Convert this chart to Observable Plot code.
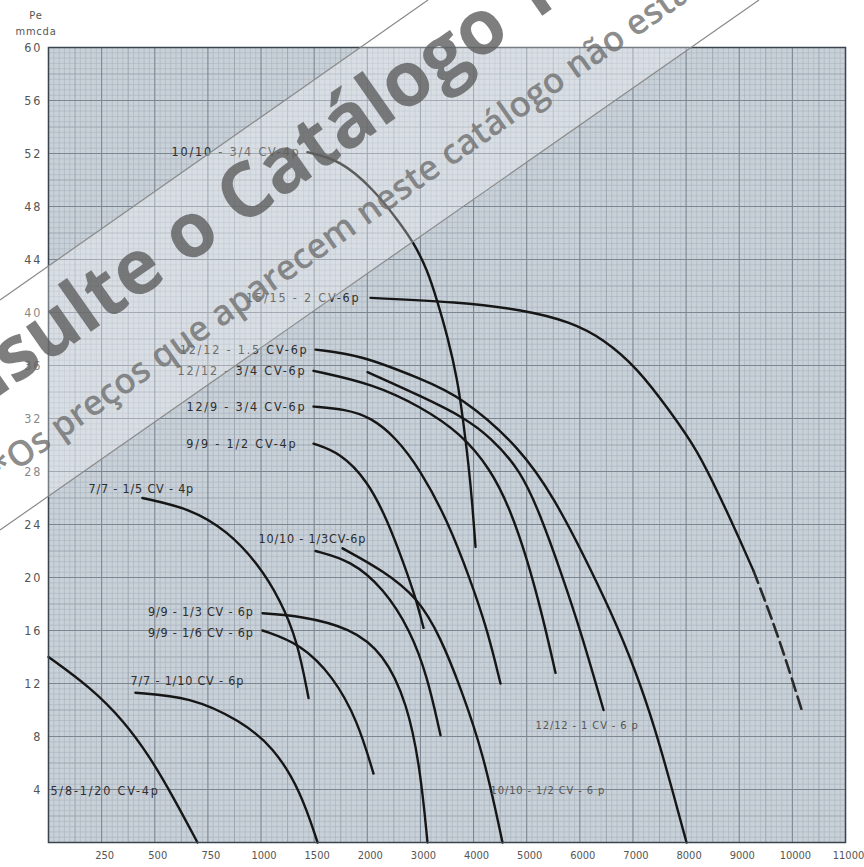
<!DOCTYPE html>
<html><head><meta charset="utf-8">
<script src="https://cdn.jsdelivr.net/npm/d3@7"></script>
<script src="https://cdn.jsdelivr.net/npm/@observablehq/plot@0.6"></script>
<style>
body{margin:0;background:#fff;}
#wrap{position:relative;width:864px;height:867px;overflow:hidden;}
#unit{position:absolute;left:8px;top:8px;width:56px;font-family:"DejaVu Sans Condensed","DejaVu Sans",sans-serif;font-size:11px;letter-spacing:0.8px;color:#555;text-align:center;line-height:16px;}
#wm{position:absolute;left:0;top:0;pointer-events:none;}
.lbl text{letter-spacing:1.8px;}
.lblt text{letter-spacing:0.8px;}
.lbl2 text{letter-spacing:0.9px;}
.yax text{letter-spacing:2px;}
</style></head><body><div id="wrap"><div id="unit">Pe<br>mmcda</div></div>
<script>
// x axis break points (equally spaced on the paper)
const xBreaks = [0,250,500,750,1000,1500,2000,3000,4000,5000,6000,7000,8000,9000,10000,11000];
const xTickLabels = [250,500,750,1000,1500,2000,3000,4000,5000,6000,7000,8000,9000,10000,11000];
const yTicks = [4,8,12,16,20,24,28,32,36,40,44,48,52,56,60];

// fan curves: flow (x) and pressure Pe mmcda (y)
const names = ["10/10-3/4","15/15-2","12/12-1.5","12/12-1","12/12-3/4","12/9-3/4","9/9-1/2","7/7-1/5","10/10-1/3","10/10-1/2","9/9-1/3","9/9-1/6","7/7-1/10","5/8-1/20"];
const q1 = [1437,1748,2117,2569,2870,3133,3322,3510,3698,3792,3905,3980,4037];
const p1 = [52.1,51.5,49.3,47.0,45.3,43.2,40.8,38.2,34.9,32.2,28.6,25.4,22.3];
const q2 = [2061,3698,4940,5825,6446,7086,7707,8215,8648,8893,9269];
const p2 = [41.1,40.8,40.2,39.3,38.0,35.8,32.5,29.6,26.0,23.9,20.5];
const q2dash = [9269,9721,10192];
const p2dash = [20.5,15.8,9.8];
const q3 = [1513,1936,3002,3755,4884,5543,6070,6578,7049,7425,7745,8008];
const p3 = [37.2,36.8,35.0,33.7,29.8,25.8,21.7,17.5,13.0,8.5,3.9,0];
const q4 = [2004,3058,3811,4319,4884,5260,5637,6013,6446];
const p4 = [35.5,33.6,32.1,30.6,28.1,24.7,20.5,16.0,10.0];
const q5 = [1494,2117,3002,3755,4319,4696,5016,5298,5543];
const p5 = [35.6,34.6,32.9,30.9,28.2,25.1,21.3,17.1,12.8];
const q6 = [1494,1795,2061,2531,3002,3510,3943,4263,4507];
const p6 = [32.9,32.7,32.1,30.6,28.1,24.3,19.8,16.0,12.0];
const q7 = [1494,1748,2004,2381,2682,2908,3058];
const p7 = [30.1,29.4,27.3,24.3,21.1,18.5,16.2];
const q8 = [442,668,842,983,1183,1343,1447];
const p8 = [26.0,25.2,23.5,21.1,18.3,15.2,10.9];
const q9 = [1513,1842,2305,2813,3133,3378];
const p9 = [22.0,21.3,19.2,16.0,12.5,8.1];
const q10 = [1767,2305,2945,3378,3755,4187,4545];
const p10 = [22.2,20.5,18.5,15.5,11.7,6.7,0];
const q11 = [1014,1372,1842,2305,2757,3002,3133];
const p11 = [17.3,17.1,16.2,14.3,10.5,5.4,0];
const q12 = [1014,1372,1682,1908,2117];
const p12 = [16.0,15.0,12.5,9.2,5.2];
const q13 = [409,668,903,1118,1372,1532];
const p13 = [11.3,11.0,9.2,7.2,3.9,0];
const q14 = [0,198,353,480,588,701];
const p14 = [14.0,11.7,9.2,6.4,3.4,0];

// curve labels
const labelText = ["10/10 - 3/4 CV-4p","15/15 - 2 CV-6p","12/12 - 1.5 CV-6p","12/12 - 3/4 CV-6p","12/9 - 3/4 CV-6p","9/9 - 1/2 CV-4p","7/7 - 1/5 CV - 4p","10/10 - 1/3CV-6p","9/9 - 1/3 CV - 6p","9/9 - 1/6 CV - 6p","7/7 - 1/10 CV - 6p","5/8-1/20 CV-4p","12/12 - 1 CV - 6 p","10/10 - 1/2 CV - 6 p"];
const labelQ = [1372,1936,1447,1428,1428,1343,188,988,965,965,386,9,5166,4319];
const labelP = [52.1,41.1,37.2,35.6,32.9,30.1,26.7,22.9,17.4,15.8,12.2,3.9,8.8,3.9];
const labelAnchor = ["end","end","end","end","end","end","start","start","end","end","start","start","start","start"];
const labelGroup = ["wide","wide","wide","wide","wide","wide","tight","tight","tight","tight","tight","wide","light","light"];

const Q = [q1,q2,q3,q4,q5,q6,q7,q8,q9,q10,q11,q12,q13,q14];
const P = [p1,p2,p3,p4,p5,p6,p7,p8,p9,p10,p11,p12,p13,p14];
const rows = [];
Q.forEach((qs, i) => qs.forEach((q, j) => rows.push({name: names[i], q, p: P[i][j]})));
const dashRows = q2dash.map((q, j) => ({q, p: p2dash[j]}));
const labels = labelText.map((t, i) => ({t, q: labelQ[i], p: labelP[i], a: labelAnchor[i], g: labelGroup[i]}));

// graph paper grid
const xMinor = [], xMid = [];
for (let i = 0; i < xBreaks.length - 1; i++) {
  const a = xBreaks[i], b = xBreaks[i + 1];
  for (let k = 1; k < 10; k++) (k === 5 ? xMid : xMinor).push(a + (b - a) * k / 10);
}
const yMinor = [], yMid = [];
for (let i = 0; i < 150; i++) {
  if (i % 10 === 0) continue;
  (i % 5 === 0 ? yMid : yMinor).push(i * 0.4);
}
const yMajor = d3.range(0, 61, 4);

const labelMarks = [];
for (const g of ["wide", "tight", "light"]) {
  for (const a of ["start", "end"]) {
    const sub = labels.filter(d => d.g === g && d.a === a);
    if (!sub.length) continue;
    labelMarks.push(Plot.text(sub, {
      x: "q", y: "p", text: "t", textAnchor: a,
      fontSize: g === "light" ? 11 : 12.5,
      fill: g === "light" ? "#555" : "#2e2e2e",
      className: g === "wide" ? "lbl" : g === "tight" ? "lblt" : "lbl2"
    }));
  }
}

const font = '"DejaVu Sans Condensed","DejaVu Sans",sans-serif';
const chart = Plot.plot({
  width: 864, height: 867,
  marginLeft: 48, marginRight: 19, marginTop: 47, marginBottom: 25,
  x: {type: "linear", domain: xBreaks, label: null},
  y: {domain: [0, 60], label: null},
  style: {background: "transparent", fontFamily: font, fontSize: "11px", color: "#555"},
  marks: [
    Plot.frame({fill: "#c8d0d8", stroke: null}),
    Plot.ruleX(xMinor, {stroke: "#a9b3bd", strokeWidth: 0.6}),
    Plot.ruleY(yMinor, {stroke: "#a9b3bd", strokeWidth: 0.6}),
    Plot.ruleX(xMid, {stroke: "#98a3ae", strokeWidth: 0.9}),
    Plot.ruleY(yMid, {stroke: "#98a3ae", strokeWidth: 0.9}),
    Plot.ruleX(xBreaks, {stroke: "#7b8692", strokeWidth: 1.1}),
    Plot.ruleY(yMajor, {stroke: "#7b8692", strokeWidth: 1.1}),
    Plot.line(rows, {x: "q", y: "p", z: "name", curve: "basis", stroke: "#161616", strokeWidth: 2.4}),
    Plot.line(dashRows, {x: "q", y: "p", curve: "basis", stroke: "#2a2a2a", strokeWidth: 2.6, strokeDasharray: "13,6"}),
    ...labelMarks,
    Plot.frame({stroke: "#3a4550", strokeWidth: 1.5}),
    Plot.axisX({ticks: xTickLabels, tickSize: 0, tickPadding: 9, dx: 3, tickFormat: d => String(d), fontSize: 11, label: null}),
    Plot.axisY({ticks: yTicks, tickSize: 0, tickPadding: 6, fontSize: 12.5, label: null, className: "yax"})
  ]
});
const wrap = document.getElementById("wrap");
wrap.insertBefore(chart, wrap.firstChild);

// watermark overlay
const ns = "http://www.w3.org/2000/svg";
const wm = document.createElementNS(ns, "svg");
wm.setAttribute("id", "wm"); wm.setAttribute("width", 864); wm.setAttribute("height", 867);
wm.innerHTML = `
 <polygon points="0,300 428,0 759,0 0,530" fill="#ffffff" fill-opacity="0.3"/>
 <line x1="0" y1="300" x2="428" y2="0" stroke="#8a8a8a" stroke-width="1.2"/>
 <line x1="0" y1="530" x2="759" y2="0" stroke="#8a8a8a" stroke-width="1.2"/>
 <text transform="translate(-105,469) rotate(-35)" font-family="'Open Sans',sans-serif" font-weight="700" font-size="76" fill="#5e5e5e" fill-opacity="0.8">Consulte o Catálogo TEC</text>
 <text transform="translate(1,482) rotate(-35)" font-family="'Open Sans',sans-serif" font-weight="600" font-size="35" fill="#6e6e6e" fill-opacity="0.8">*Os preços que aparecem neste catálogo não estão</text>`;
wrap.appendChild(wm);
</script></body></html>
